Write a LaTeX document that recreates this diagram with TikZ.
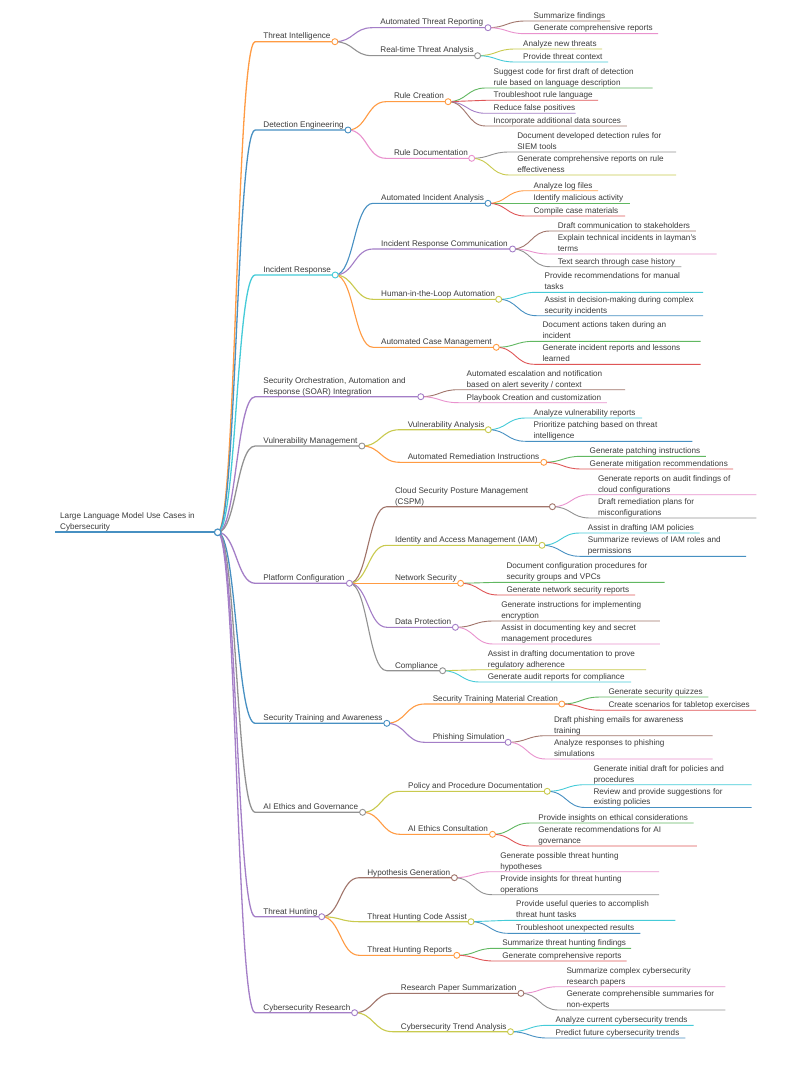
\documentclass[tikz,border=0pt]{standalone}
\usepackage{fontspec}
\setmainfont{Liberation Sans}
\usetikzlibrary{calc}
\definecolor{cblX}{HTML}{1F77B4}
\definecolor{corX}{HTML}{FF7F0E}
\definecolor{cgrX}{HTML}{2CA02C}
\definecolor{creX}{HTML}{D62728}
\definecolor{cpuX}{HTML}{9467BD}
\definecolor{cbrX}{HTML}{8C564B}
\definecolor{cpiX}{HTML}{E377C2}
\definecolor{cgyX}{HTML}{7F7F7F}
\definecolor{colX}{HTML}{BCBD22}
\definecolor{ccyX}{HTML}{17BECF}
\colorlet{cbl}{cblX!82!white}
\colorlet{cor}{corX!78!white}
\colorlet{cgr}{cgrX!75!white}
\colorlet{cre}{creX!78!white}
\colorlet{cpu}{cpuX!85!white}
\colorlet{cbr}{cbrX!82!white}
\colorlet{cpi}{cpiX!80!white}
\colorlet{cgy}{cgyX!85!white}
\colorlet{col}{colX!80!white}
\colorlet{ccy}{ccyX!80!white}
\definecolor{txtc}{HTML}{3C3C3C}
\pgfdeclarelayer{front}
\pgfsetlayers{main,front}
\tikzset{
  txt/.style={anchor=south west, inner sep=0pt, align=left, text=txtc, font=\fontsize{8.15}{10.8}\selectfont},
  dA/.style={line width=1.3pt},
  dB/.style={line width=1.1pt},
  dC/.style={line width=0.9pt},
  dotc/.style={fill=white, line width=0.9pt}
}
\newcommand{\MMdp}{\rule[-2pt]{0pt}{2pt}}
% name, parent, x start, x end, y, colour, width style, text
\newcommand{\MMn}[8]{%
  \coordinate (#1-s) at (#3,#5);
  \coordinate (#1-e) at (#4,#5);
  \node[txt] (#1) at ([xshift=8pt,yshift=0.5pt]#1-s) {#8\MMdp};
  \draw[#6,#7] let \p1=(#2-e), \p2=(#1-s) in (\p1) .. controls ({0.5*\x1+0.5*\x2},\y1) and ({0.5*\x1+0.5*\x2},\y2) .. (\p2) -- (#1-e);
}
\newcommand{\MMc}[2]{\begin{pgfonlayer}{front}\draw[#2,dotc] (#1-e) circle (3pt);\end{pgfonlayer}}
\newcommand{\MMp}[8]{\MMn{#1}{#2}{#3}{#4}{#5}{#6}{#7}{#8}\MMc{#1}{#6}}
\begin{document}
\begin{tikzpicture}[x=1pt,y=-1pt]
\fill[white] (0,0) rectangle (794,1070);
\useasboundingbox (0,0) rectangle (794,1070);
% root
\coordinate (root-s) at (55,532.3);
\coordinate (root-e) at (217.7,532.3);
\node[txt] (root) at ([xshift=5pt,yshift=0.5pt]root-s) {Large Language Model Use Cases in\\Cybersecurity\MMdp};
\draw[cbl,line width=2pt] (root-s) -- (root-e);
\begin{pgfonlayer}{front}\draw[cbl,dotc,line width=1.2pt] (root-e) circle (3.3pt);\end{pgfonlayer}
% Threat Intelligence
\MMp{ti}{root}{255.2}{334.9}{41.7}{cor}{dA}{Threat Intelligence}
\MMp{atr}{ti}{372.2}{488}{27.7}{cpu}{dB}{Automated Threat Reporting}
\MMn{atr1}{atr}{525.4}{610.3}{21}{cbr}{dC}{Summarize findings}
\MMn{atr2}{atr}{525.4}{658}{33.7}{cpi}{dC}{Generate comprehensive reports}
\MMp{rta}{ti}{372.2}{477.6}{55.7}{cgy}{dB}{Real-time Threat Analysis}
\MMn{rta1}{rta}{515}{602}{49}{col}{dC}{Analyze new threats}
\MMn{rta2}{rta}{515}{608.2}{62}{ccy}{dC}{Provide threat context}
% Detection Engineering
\MMp{de}{root}{255.2}{348}{130}{cbl}{dA}{Detection Engineering}
\MMp{rc}{de}{385.8}{448.1}{101.7}{cor}{dB}{Rule Creation}
\MMn{rc1}{rc}{485.5}{652.5}{88}{cgr}{dC}{Suggest code for first draft of detection\\rule based on language description}
\MMn{rc2}{rc}{485.5}{598.1}{100.3}{cre}{dC}{Troubleshoot rule language}
\MMn{rc3}{rc}{485.5}{575.6}{113.3}{cpu}{dC}{Reduce false positives}
\MMn{rc4}{rc}{485.5}{626.9}{126}{cbr}{dC}{Incorporate additional data sources}
\MMp{rd}{de}{385.8}{471.7}{158.3}{cpi}{dB}{Rule Documentation}
\MMn{rd1}{rd}{509.1}{676}{152}{cgy}{dC}{Document developed detection rules for\\SIEM tools}
\MMn{rd2}{rd}{509.1}{676}{175}{col}{dC}{Generate comprehensive reports on rule\\effectiveness}
% Incident Response
\MMp{ir}{root}{255.2}{335.2}{275}{ccy}{dA}{Incident Response}
\MMp{aia}{ir}{373}{488}{203.3}{cbl}{dB}{Automated Incident Analysis}
\MMn{aia1}{aia}{525.4}{598.1}{190.7}{cor}{dC}{Analyze log files}
\MMn{aia2}{aia}{525.4}{630}{203.3}{cgr}{dC}{Identify malicious activity}
\MMn{aia3}{aia}{525.4}{625.2}{216}{cre}{dC}{Compile case materials}
\MMp{irc}{ir}{373}{512.6}{249}{cpu}{dB}{Incident Response Communication}
\MMn{irc1}{irc}{549.6}{695.8}{231}{cbr}{dC}{Draft communication to stakeholders}
\MMn{irc2}{irc}{549.6}{716.6}{254}{cpi}{dC}{Explain technical incidents in layman's\\terms}
\MMn{irc3}{irc}{549.6}{681.3}{266.7}{cgy}{dC}{Text search through case history}
\MMp{hil}{ir}{373}{498.7}{299.3}{col}{dB}{Human-in-the-Loop Automation}
\MMn{hil1}{hil}{536.4}{703.1}{292.3}{ccy}{dC}{Provide recommendations for manual\\tasks}
\MMn{hil2}{hil}{536.4}{703.1}{315.7}{cbl}{dC}{Assist in decision-making during complex\\security incidents}
\MMp{acm}{ir}{373}{496.3}{347.3}{cor}{dB}{Automated Case Management}
\MMn{acm1}{acm}{534.4}{700.7}{341.3}{cgr}{dC}{Document actions taken during an\\incident}
\MMn{acm2}{acm}{534.4}{700.7}{364.3}{cre}{dC}{Generate incident reports and lessons\\learned}
% SOAR
\MMp{soar}{root}{255.2}{420.8}{396.7}{cpu}{dA}{Security Orchestration, Automation and\\Response (SOAR) Integration}
\MMn{soar1}{soar}{458.5}{625.2}{389.7}{cbr}{dC}{Automated escalation and notification\\based on alert severity / context}
\MMn{soar2}{soar}{458.5}{606.8}{402.7}{cpi}{dC}{Playbook Creation and customization}
% Vulnerability Management
\MMp{vm}{root}{255.2}{361.9}{446}{cgy}{dA}{Vulnerability Management}
\MMp{va}{vm}{399.6}{488.3}{429.7}{col}{dB}{Vulnerability Analysis}
\MMn{va1}{va}{525.4}{642.1}{418}{ccy}{dC}{Analyze vulnerability reports}
\MMn{va2}{va}{525.4}{692.4}{441.3}{cbl}{dC}{Prioritize patching based on threat\\intelligence}
\MMp{ari}{vm}{399.6}{543.8}{462.3}{cor}{dB}{Automated Remediation Instructions}
\MMn{ari1}{ari}{581.5}{705.9}{456.3}{cgr}{dC}{Generate patching instructions}
\MMn{ari2}{ari}{581.5}{733.2}{469}{cre}{dC}{Generate mitigation recommendations}
% Platform Configuration
\MMp{pc}{root}{255.2}{349.4}{583.3}{cpu}{dA}{Platform Configuration}
\MMp{cspm}{pc}{386.8}{552.4}{506.7}{cbr}{dB}{Cloud Security Posture Management\\(CSPM)}
\MMn{cspm1}{cspm}{589.8}{756.4}{494.7}{cpi}{dC}{Generate reports on audit findings of\\cloud configurations}
\MMn{cspm2}{cspm}{589.8}{756.4}{518}{cgy}{dC}{Draft remediation plans for\\misconfigurations}
\MMp{iam}{pc}{386.8}{542}{545.3}{col}{dB}{Identity and Access Management (IAM)}
\MMn{iam1}{iam}{579.7}{699.6}{533}{ccy}{dC}{Assist in drafting IAM policies}
\MMn{iam2}{iam}{579.7}{746}{556.3}{cbl}{dC}{Summarize reviews of IAM roles and\\permissions}
\MMp{ns}{pc}{386.8}{460.6}{583.3}{cor}{dB}{Network Security}
\MMn{ns1}{ns}{498.3}{664.7}{582.3}{cgr}{dC}{Document configuration procedures for\\security groups and VPCs}
\MMn{ns2}{ns}{498.3}{635.2}{595}{cre}{dC}{Generate network security reports}
\MMp{dp}{pc}{386.8}{455.4}{627.3}{cpu}{dB}{Data Protection}
\MMn{dp1}{dp}{493.1}{659.8}{621}{cbr}{dC}{Generate instructions for implementing\\encryption}
\MMn{dp2}{dp}{493.1}{659.8}{644}{cpi}{dC}{Assist in documenting key and secret\\management procedures}
\MMp{comp}{pc}{386.8}{442.6}{670.7}{cgy}{dB}{Compliance}
\MMn{comp1}{comp}{479.6}{646}{669.7}{col}{dC}{Assist in drafting documentation to prove\\regulatory adherence}
\MMn{comp2}{comp}{479.6}{631.1}{682}{ccy}{dC}{Generate audit reports for compliance}
% Security Training and Awareness
\MMp{sta}{root}{255.2}{386.8}{723.3}{cbl}{dA}{Security Training and Awareness}
\MMp{stm}{sta}{424.6}{561.8}{704}{cor}{dB}{Security Training Material Creation}
\MMn{stm1}{stm}{600.3}{708.3}{697}{cgr}{dC}{Generate security quizzes}
\MMn{stm2}{stm}{600.3}{756}{710.2}{cre}{dC}{Create scenarios for tabletop exercises}
\MMp{ps}{sta}{424.6}{508.1}{742.3}{cpu}{dB}{Phishing Simulation}
\MMn{ps1}{ps}{545.8}{712.5}{735.7}{cbr}{dC}{Draft phishing emails for awareness\\training}
\MMn{ps2}{ps}{545.8}{712.5}{759}{cpi}{dC}{Analyze responses to phishing\\simulations}
% AI Ethics and Governance
\MMp{aeg}{root}{255.2}{362.6}{812.3}{cgy}{dA}{AI Ethics and Governance}
\MMp{ppd}{aeg}{400}{547.2}{791.3}{col}{dB}{Policy and Procedure Documentation}
\MMn{ppd1}{ppd}{585.3}{751.6}{784.7}{ccy}{dC}{Generate initial draft for policies and\\procedures}
\MMn{ppd2}{ppd}{585.3}{751.6}{807.5}{cbl}{dC}{Review and provide suggestions for\\existing policies}
\MMp{aec}{aeg}{400}{492.5}{834.3}{cor}{dB}{AI Ethics Consultation}
\MMn{aec1}{aec}{530.2}{693.7}{823}{cgr}{dC}{Provide insights on ethical considerations}
\MMn{aec2}{aec}{530.2}{696.9}{846}{cre}{dC}{Generate recommendations for AI\\governance}
% Threat Hunting
\MMp{th}{root}{255.2}{321.7}{916.7}{cpu}{dA}{Threat Hunting}
\MMp{hg}{th}{359.1}{454.4}{877.7}{cbr}{dB}{Hypothesis Generation}
\MMn{hg1}{hg}{492.1}{659.1}{871.7}{cpi}{dC}{Generate possible threat hunting\\hypotheses}
\MMn{hg2}{hg}{492.1}{659.1}{894.7}{cgy}{dC}{Provide insights for threat hunting\\operations}
\MMp{thca}{th}{359.1}{471}{921.7}{col}{dB}{Threat Hunting Code Assist}
\MMn{thca1}{thca}{508}{675.4}{920.3}{ccy}{dC}{Provide useful queries to accomplish\\threat hunt tasks}
\MMn{thca2}{thca}{508}{640.4}{933.3}{cbl}{dC}{Troubleshoot unexpected results}
\MMp{thr}{th}{359.1}{456.8}{955.3}{cor}{dB}{Threat Hunting Reports}
\MMn{thr1}{thr}{494.2}{631.1}{948.3}{cgr}{dC}{Summarize threat hunting findings}
\MMn{thr2}{thr}{494.2}{626.5}{961}{cre}{dC}{Generate comprehensive reports}
% Cybersecurity Research
\MMp{cr}{root}{255.2}{354.6}{1012.7}{cpu}{dA}{Cybersecurity Research}
\MMp{rps}{cr}{392.7}{520.9}{993.3}{cbr}{dB}{Research Paper Summarization}
\MMn{rps1}{rps}{558.3}{725.3}{986.7}{cpi}{dC}{Summarize complex cybersecurity\\research papers}
\MMn{rps2}{rps}{558.3}{725.3}{1010}{cgy}{dC}{Generate comprehensible summaries for\\non-experts}
\MMp{cta}{cr}{392.7}{510.5}{1031.7}{col}{dB}{Cybersecurity Trend Analysis}
\MMn{cta1}{cta}{547.5}{693.7}{1025.3}{ccy}{dC}{Analyze current cybersecurity trends}
\MMn{cta2}{cta}{547.5}{685.4}{1038}{cbl}{dC}{Predict future cybersecurity trends}
\end{tikzpicture}
\end{document}
